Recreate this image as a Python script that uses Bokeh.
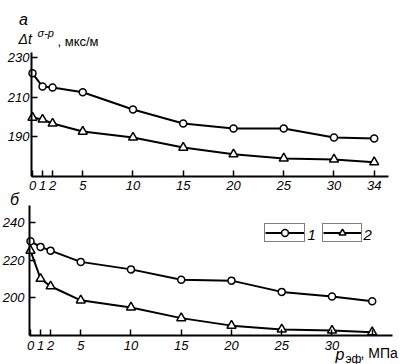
from bokeh.plotting import figure
from bokeh.models import FixedTicker, Range1d, Label, Legend, LegendItem, LinearAxis
from bokeh.embed import file_html
from bokeh.resources import INLINE

# ---- data ----
p_eff = [0, 1, 2, 5, 10, 15, 20, 25, 30, 34]
a_curve1 = [222, 215.3, 214.8, 212.4, 203.7, 196.6, 194, 194, 189.5, 189]
a_curve2 = [199.6, 198.6, 196.6, 192.5, 189.5, 184.4, 181, 178.9, 178.4, 177]
b_curve1 = [230, 227, 225, 219, 215, 209.5, 209, 203, 200.5, 198]
b_curve2 = [225, 210, 206, 198.5, 194.7, 189, 185, 183, 182.4, 181.5]
x_ticks = [0, 1, 2, 5, 10, 15, 20, 25, 30, 34]
a_y_ticks = [190, 210, 230]
b_y_ticks = [200, 220, 240]
legend_labels = ["1", "2"]

FONT = "Liberation Sans"

# one canvas, two panels: panel "б" on the default ranges, panel "а" on extra ranges
p = figure(width=400, height=364, output_backend="svg", toolbar_location=None,
           x_range=Range1d(-2.985, 36.816), y_range=Range1d(164.27, 358.4),
           x_axis_location=None, y_axis_location=None, min_border=0)
p.extra_x_ranges = {"xa": Range1d(-3.184, 36.617)}
p.extra_y_ranges = {"ya": Range1d(74.56, 258.86)}
p.outline_line_color = None
p.xgrid.visible = False
p.ygrid.visible = False
p.background_fill_color = "white"
p.border_fill_color = "white"


def style_axis(ax, standoff):
    ax.axis_line_width = 2
    ax.axis_line_color = "black"
    ax.major_tick_in = 6
    ax.major_tick_out = 0
    ax.major_tick_line_width = 1.5
    ax.major_tick_line_color = "black"
    ax.minor_tick_line_color = None
    ax.major_label_text_font = FONT
    ax.major_label_text_font_style = "italic"
    ax.major_label_text_font_size = "13px"
    ax.major_label_text_color = "black"
    ax.major_label_standoff = standoff


def add_series(ys_circle, ys_tri, **rng):
    l1 = p.line(p_eff, ys_circle, line_color="black", line_width=2, **rng)
    s1 = p.scatter(p_eff, ys_circle, marker="circle", size=7, fill_color="white",
                   line_color="black", line_width=1.5, **rng)
    l2 = p.line(p_eff, ys_tri, line_color="black", line_width=2, **rng)
    s2 = p.scatter(p_eff, ys_tri, marker="triangle", size=9, fill_color="white",
                   line_color="black", line_width=1.5, **rng)
    return (l1, s1), (l2, s2)


def txt(x, y, t, size="12px", style_="normal", align="left", baseline="alphabetic"):
    p.add_layout(Label(x=x, y=y, x_units="screen", y_units="screen", text=t,
                       text_font=FONT, text_font_size=size, text_font_style=style_,
                       text_color="black", text_align=align, text_baseline=baseline))


# ---- panel a ----
add_series(a_curve1, a_curve2, x_range_name="xa", y_range_name="ya")
ax_a_x = LinearAxis(x_range_name="xa", y_range_name="ya", ticker=FixedTicker(ticks=x_ticks),
                    fixed_location=169.75, bounds=(-0.1, 35.4))
ax_a_y = LinearAxis(x_range_name="xa", y_range_name="ya", ticker=FixedTicker(ticks=a_y_ticks),
                    fixed_location=-0.1, bounds=(169.75, 232.5))
style_axis(ax_a_x, 5)
style_axis(ax_a_y, 2)
p.add_layout(ax_a_x, "below")
p.add_layout(ax_a_y, "left")
txt(23, 345, "а", size="16px", style_="italic", align="center", baseline="middle")
txt(18, 326, "Δt", size="14px", style_="italic")
txt(37, 332, "σ-p", size="11px", style_="italic")
txt(57, 323, ", мкс/м", size="13px")

# ---- panel b ----
(r1, r2) = add_series(b_curve1, b_curve2)
ax_b_x = LinearAxis(ticker=FixedTicker(ticks=x_ticks), fixed_location=179.73,
                    bounds=(-0.1, 36.0), major_label_overrides={34: ""})
ax_b_y = LinearAxis(ticker=FixedTicker(ticks=b_y_ticks), fixed_location=-0.1,
                    bounds=(179.73, 249.07))
style_axis(ax_b_x, 5)
style_axis(ax_b_y, 5)
p.add_layout(ax_b_x, "below")
p.add_layout(ax_b_y, "left")
txt(14, 165, "б", size="16px", style_="italic", align="center", baseline="middle")
txt(335, 10, "p", size="16px", style_="italic")
txt(345, 6, "эф", size="12px")
txt(360, 12, ", МПа", size="14px")

for (rends, lx, w, tx, lab) in [(r1, 264, 39, 307, legend_labels[0]),
                                (r2, 322, 38, 363, legend_labels[1])]:
    lg = Legend(items=[LegendItem(label="", renderers=list(rends))], location=(lx, 122),
                padding=0, margin=0, spacing=0, label_standoff=0,
                label_width=0, label_height=0,
                glyph_width=w, glyph_height=17,
                border_line_color="black", border_line_width=1.5,
                background_fill_color="white", background_fill_alpha=1.0,
                label_text_font_size="10px")
    p.add_layout(lg)
    txt(tx, 130, lab, size="15px", style_="italic", baseline="middle")

open("out.html", "w").write(file_html(p, INLINE))
